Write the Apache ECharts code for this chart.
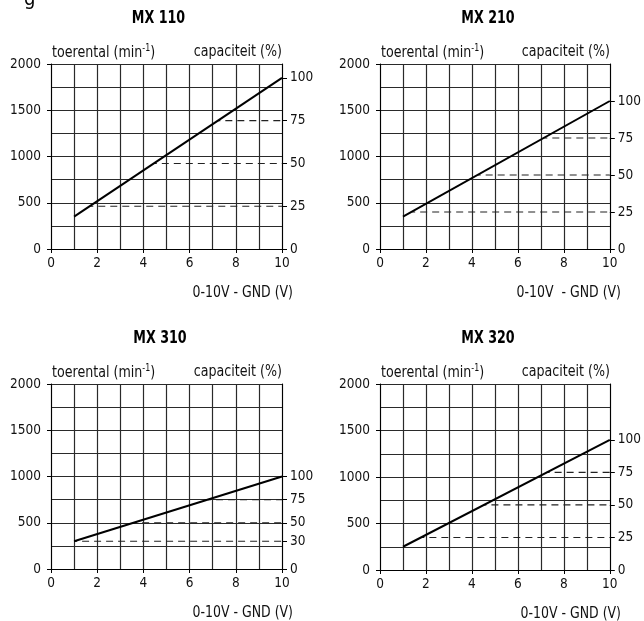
<!DOCTYPE html>
<html><head><meta charset="utf-8">
<script src="https://cdn.jsdelivr.net/npm/echarts@6/dist/echarts.min.js"></script>
<style>html,body{margin:0;padding:0;background:#fff}#c{width:644px;height:621px}</style>
</head><body><div id="c"></div>
<script>
// ---- data ----
const titles = ['MX 110', 'MX 210', 'MX 310', 'MX 320'];
const volts = [1, 10];                       // control voltage (V)
const mx110Rpm = [350, 1850];                // toerental (min-1)
const mx210Rpm = [350, 1600];
const mx310Rpm = [300, 1000];
const mx320Rpm = [250, 1400];
const xTicks = [0, 2, 4, 6, 8, 10];
const rpmTicks = [0, 500, 1000, 1500, 2000];
const mx110PctTicks = [0, 25, 50, 75, 100];
const mx210PctTicks = [0, 25, 50, 75, 100];
const mx310PctTicks = [0, 30, 50, 75, 100];
const mx320PctTicks = [0, 25, 50, 75, 100];
const mx110Levels = [25, 50, 75];            // capaciteit (%) dashed levels
const mx210Levels = [25, 50, 75];
const mx310Levels = [30, 50, 75];
const mx320Levels = [25, 50, 75];
const mx110DashStart = [1.7, 4.45, 7.2];     // volts where each dashed level begins
const mx210DashStart = [1.4, 4.25, 7.15];
const mx310DashStart = [1.0, 3.6, 6.8];
const mx320DashStart = [1.8, 4.5, 7.25];
const xEnd = 10;

const rpmSets = [mx110Rpm, mx210Rpm, mx310Rpm, mx320Rpm];
const pctTickSets = [mx110PctTicks, mx210PctTicks, mx310PctTicks, mx320PctTicks];
const levelSets = [mx110Levels, mx210Levels, mx310Levels, mx320Levels];
const dashStartSets = [mx110DashStart, mx210DashStart, mx310DashStart, mx320DashStart];

// ---- layout ----
const FONT = "'DejaVu Sans Condensed', 'DejaVu Sans', sans-serif";
const boxes = [
  {left: 51, top: 64, width: 231, height: 185},
  {left: 380, top: 64, width: 230, height: 185},
  {left: 51, top: 384, width: 231, height: 185},
  {left: 380, top: 384, width: 230, height: 186}
];
const titleCenters = [158.5, 488, 160, 488];
const gridColor = '#2a2a2a';
const txt = '#111';
const plain = v => String(v);

const grid = [], xAxis = [], yAxis = [], series = [], graphic = [];
const gridB = [], xGridAxes = [], yGridAxes = [];
boxes.forEach((b, i) => {
  grid.push({left: b.left, top: b.top, width: b.width, height: b.height, containLabel: false});
  gridB.push({left: b.left, top: b.top, width: b.width, height: b.height, containLabel: false});
  xAxis.push({
    type: 'value', gridIndex: i, position: 'bottom', min: 0, max: 10, interval: 1,
    axisLine: {show: true, lineStyle: {color: '#000', width: 1}},
    axisTick: {show: true, customValues: xTicks, length: 4, lineStyle: {color: '#000'}},
    axisLabel: {customValues: xTicks, formatter: plain, margin: 7, color: txt, fontFamily: FONT, fontSize: 13.5},
    splitLine: {show: false}, z: 3
  });
  xGridAxes.push({
    type: 'value', gridIndex: 4 + i, min: 0, max: 10, interval: 1,
    axisLine: {show: false}, axisTick: {show: false}, axisLabel: {show: false},
    splitLine: {show: true, lineStyle: {color: gridColor, width: 1.2}}
  });
  const rpmMax = rpmSets[i][1];
  yAxis.push({
    type: 'value', gridIndex: i, position: 'left', min: 0, max: 2000, interval: 250,
    axisLine: {show: true, lineStyle: {color: '#000', width: 1}},
    axisTick: {show: true, customValues: rpmTicks, length: 4, lineStyle: {color: '#000'}},
    axisLabel: {customValues: rpmTicks, formatter: plain, margin: 10, color: txt, fontFamily: FONT, fontSize: 13.5},
    splitLine: {show: false}, z: 3
  });
  yAxis.push({
    type: 'value', gridIndex: i, position: 'right', min: 0, max: 100 * 2000 / rpmMax,
    axisLine: {show: true, lineStyle: {color: '#000', width: 1}},
    axisTick: {show: true, customValues: pctTickSets[i], length: 5, lineStyle: {color: '#000'}},
    axisLabel: {customValues: pctTickSets[i], formatter: plain, margin: 8, color: txt, fontFamily: FONT, fontSize: 13.5},
    splitLine: {show: false}, z: 3
  });
  yGridAxes.push({
    type: 'value', gridIndex: 4 + i, min: 0, max: 2000, interval: 250,
    axisLine: {show: false}, axisTick: {show: false}, axisLabel: {show: false},
    splitLine: {show: true, lineStyle: {color: gridColor, width: 1.2}}
  });
  series.push({
    type: 'line', xAxisIndex: i, yAxisIndex: 2 * i, symbol: 'none', silent: true,
    data: volts.map((v, k) => [v, rpmSets[i][k]]),
    lineStyle: {color: '#000', width: 2}, z: 5
  });
  levelSets[i].forEach((lv, k) => {
    series.push({
      type: 'line', xAxisIndex: i, yAxisIndex: 2 * i + 1, symbol: 'none', silent: true,
      data: [[dashStartSets[i][k], lv], [xEnd, lv]],
      lineStyle: {color: '#222', width: 1.1, type: [7, 5], dashOffset: 4}, z: 4
    });
  });
  graphic.push({type: 'text', x: titleCenters[i], y: b.top - 45, scaleX: 0.83,
    style: {text: titles[i], font: 'bold 17px ' + FONT, fill: '#000', textAlign: 'center', textVerticalAlign: 'middle'}});
  graphic.push({type: 'text', x: b.left + 1, y: b.top - 3, scaleX: 0.88,
    style: {text: '{a|toerental (min}{s|-1}{a|)}', textVerticalAlign: 'bottom', fill: txt,
      rich: {a: {fontFamily: FONT, fontSize: 16, lineHeight: 20, verticalAlign: 'bottom'},
             s: {fontFamily: FONT, fontSize: 10, lineHeight: 20, verticalAlign: 'top', padding: [2, 0, 0, 0]}}}});
  graphic.push({type: 'text', x: b.left + b.width, y: b.top - 4, scaleX: 0.88,
    style: {text: 'capaciteit (%)', font: '16px ' + FONT, textAlign: 'right', textVerticalAlign: 'bottom', fill: txt}});
  graphic.push({type: 'text', x: b.left + b.width + 11, y: b.top + b.height + 44, scaleX: 0.87,
    style: {text: i === 1 ? '0-10V  - GND (V)' : '0-10V - GND (V)', font: '16px ' + FONT, textAlign: 'right', textVerticalAlign: 'middle', fill: txt}});
});
graphic.push({type: 'text', x: 24, y: -10, style: {text: 'g', font: '20px ' + FONT, fill: '#000'}});

// grids 0-3: data + labelled axes; grids 4-7: same boxes, grid lines only
const chart = echarts.init(document.getElementById('c'), null, {renderer: 'canvas'});
chart.setOption({
  animation: false, backgroundColor: '#fff',
  grid: grid.concat(gridB),
  xAxis: xAxis.concat(xGridAxes),
  yAxis: yAxis.concat(yGridAxes),
  series, graphic
});
</script></body></html>
